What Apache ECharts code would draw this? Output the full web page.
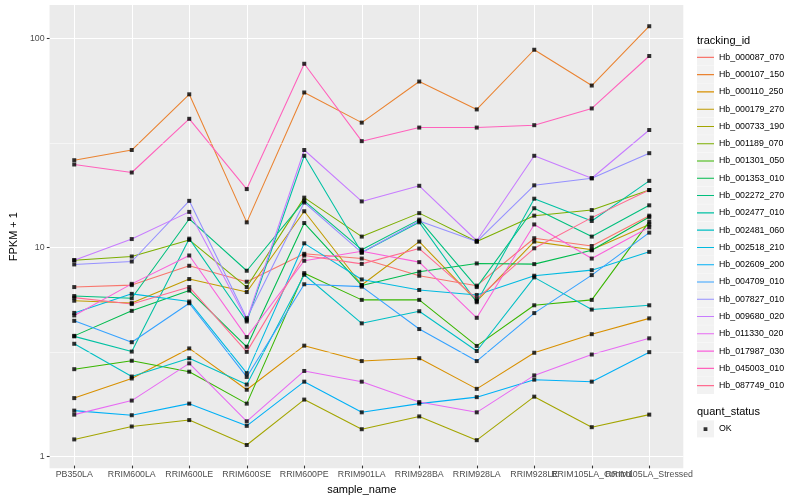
<!DOCTYPE html>
<html>
<head>
<meta charset="utf-8">
<script src="https://cdn.jsdelivr.net/npm/echarts@6/dist/echarts.min.js"></script>
<style>html,body{margin:0;padding:0;background:#fff;}#c{width:800px;height:500px;}</style>
</head>
<body>
<div id="c"></div>
<script>
// ---- data ----
const categories = ['PB350LA','RRIM600LA','RRIM600LE','RRIM600SE','RRIM600PE','RRIM901LA','RRIM928BA','RRIM928LA','RRIM928LE','RRIM105LA_Control','RRIM105LA_Stressed'];
const yTicks = [1, 10, 100];
const yMinorLines = [Math.sqrt(10), Math.sqrt(1000)];

const hb_000087_070 = [6.34, 6.48, 8.03, 6.73, 9.17, 8.7, 7.19, 6.44, 10.9, 10.0, 14.0];
const hb_000107_150 = [25.9, 29.0, 53.8, 13.0, 54.9, 39.3, 62.0, 45.5, 88.2, 59.3, 114.5];
const hb_000110_250 = [1.85, 2.30, 3.21, 2.03, 3.31, 2.79, 2.88, 2.05, 3.06, 3.76, 4.48];
const hb_000179_270 = [5.45, 5.31, 6.93, 6.0, 14.7, 6.49, 10.5, 5.43, 10.5, 9.6, 12.7];
const hb_000733_190 = [1.17, 1.35, 1.45, 1.10, 1.82, 1.31, 1.51, 1.16, 1.88, 1.34, 1.54];
const hb_001189_070 = [8.54, 8.9, 10.7, 6.34, 17.1, 11.1, 14.4, 10.5, 14.0, 14.9, 18.6];
const hb_001301_050 = [2.55, 2.80, 2.48, 1.74, 7.40, 5.5, 5.5, 3.30, 5.18, 5.5, 13.1];
const hb_001353_010 = [3.69, 4.87, 6.1, 3.27, 12.9, 6.45, 7.51, 8.24, 8.18, 9.53, 13.8];
const hb_002272_270 = [5.74, 5.6, 13.5, 7.6, 16.5, 9.6, 13.4, 6.34, 15.2, 11.1, 15.7];
const hb_002477_010 = [3.67, 3.10, 10.85, 4.33, 27.2, 9.3, 13.0, 5.36, 16.9, 13.2, 20.6];
const hb_002481_060 = [3.38, 2.35, 2.88, 2.15, 7.27, 4.24, 4.85, 3.12, 7.06, 4.94, 5.18];
const hb_002518_210 = [4.76, 5.88, 5.4, 2.44, 10.3, 6.9, 6.14, 5.81, 7.19, 7.65, 9.37];
const hb_002609_200 = [1.61, 1.53, 1.74, 1.36, 2.22, 1.58, 1.74, 1.87, 2.27, 2.22, 3.08];
const hb_004709_010 = [4.36, 3.44, 5.3, 2.34, 6.54, 6.37, 3.98, 2.79, 4.75, 7.24, 11.6];
const hb_007827_010 = [8.15, 8.42, 16.5, 4.49, 16.2, 9.3, 13.2, 10.5, 19.6, 21.2, 28.0];
const hb_009680_020 = [8.54, 10.8, 14.6, 4.41, 29.0, 16.4, 19.5, 10.6, 27.2, 21.2, 36.2];
const hb_011330_020 = [1.54, 1.80, 2.72, 1.43, 2.50, 2.22, 1.77, 1.58, 2.38, 3.0, 3.59];
const hb_017987_030 = [4.63, 6.57, 9.0, 3.64, 8.49, 9.43, 8.36, 4.51, 12.7, 8.7, 12.3];
const hb_045003_010 = [24.7, 22.6, 41.0, 18.8, 75.5, 32.0, 37.2, 37.2, 38.2, 46.0, 82.3];
const hb_087749_010 = [5.64, 5.25, 6.34, 3.09, 9.0, 8.2, 9.72, 5.56, 9.75, 13.7, 18.6];

const trackingIds = ['Hb_000087_070','Hb_000107_150','Hb_000110_250','Hb_000179_270','Hb_000733_190','Hb_001189_070','Hb_001301_050','Hb_001353_010','Hb_002272_270','Hb_002477_010','Hb_002481_060','Hb_002518_210','Hb_002609_200','Hb_004709_010','Hb_007827_010','Hb_009680_020','Hb_011330_020','Hb_017987_030','Hb_045003_010','Hb_087749_010'];
const seriesValues = [hb_000087_070, hb_000107_150, hb_000110_250, hb_000179_270, hb_000733_190, hb_001189_070, hb_001301_050, hb_001353_010, hb_002272_270, hb_002477_010, hb_002481_060, hb_002518_210, hb_002609_200, hb_004709_010, hb_007827_010, hb_009680_020, hb_011330_020, hb_017987_030, hb_045003_010, hb_087749_010];
const colors = ['#F8766D','#EA8331','#D89000','#C09B00','#A3A500','#7CAE00','#39B600','#00BB4E','#00BF7D','#00C1A3','#00BFC4','#00BAE0','#00B0F6','#35A2FF','#9590FF','#C77CFF','#E76BF3','#FA62DB','#FF62BC','#FF6C91'];
const statusName = 'OK';

// ---- layout / style ----
const FONT = '"Liberation Sans", Arial, Helvetica, sans-serif';
const PANEL = {left: 40, right: 683.3, top: 5, bottom: 468.3};
const Y_MIN = 0.875, Y_MAX = 144.9;
const KEY = {x: 697, y0: 48.7, size: 17.28, w: 17};
const LINE_ICON = 'path://M0,0h0.01v0.01h-0.01z M0,8.1h17v1.08h-17z M16.99,17.27h0.01v0.01h-0.01z';
const DOT_ICON = 'path://M0,0h0.01v0.01h-0.01z M6.6,6.74h3.8v3.8h-3.8z M16.99,17.27h0.01v0.01h-0.01z';

const chart = echarts.init(document.getElementById('c'), null, {renderer: 'canvas'});

const lineSeries = trackingIds.map((id, k) => ({
  type: 'line', name: id, xAxisIndex: 1, yAxisIndex: 1,
  data: seriesValues[k], symbol: 'none', z: 2,
  lineStyle: {width: 1.07, color: colors[k]},
  itemStyle: {color: colors[k]},
  emphasis: {disabled: true}, silent: true
}));

const pointData = [];
seriesValues.forEach(vals => vals.forEach((v, i) => pointData.push([i, v])));

const keyRects = [];
const nKeys = trackingIds.length;
for (let k = 0; k < nKeys; k++) {
  keyRects.push({type: 'rect', silent: true, z: 0, shape: {x: KEY.x, y: KEY.y0 + k * KEY.size, width: KEY.w, height: KEY.size - 0.3}, style: {fill: '#F2F2F2'}});
}
const okTop = 420.4;
keyRects.push({type: 'rect', silent: true, z: 0, shape: {x: KEY.x, y: okTop, width: KEY.w, height: KEY.size - 0.3}, style: {fill: '#F2F2F2'}});

const option = {
  animation: false,
  backgroundColor: '#ffffff',
  textStyle: {fontFamily: FONT},
  grid: [
    {left: PANEL.left, right: 800 - PANEL.right, top: PANEL.top, bottom: 500 - PANEL.bottom, show: true, backgroundColor: '#EBEBEB', borderWidth: 0},
    {left: 74.25, width: 575, top: PANEL.top, bottom: 500 - PANEL.bottom}
  ],
  xAxis: [
    {gridIndex: 0, type: 'value', min: 0, max: 1, show: false},
    {gridIndex: 1, type: 'category', data: categories, boundaryGap: false,
     axisLine: {show: false},
     axisTick: {show: true, interval: 0, length: 2.75, lineStyle: {color: '#333333', width: 1.07}},
     axisLabel: {interval: 0, color: '#4D4D4D', fontSize: 8.8, margin: 4.5, fontFamily: FONT},
     splitLine: {show: true, interval: 0, lineStyle: {color: '#ffffff', width: 1.07}},
     name: 'sample_name', nameLocation: 'middle', nameGap: 16,
     nameTextStyle: {color: '#000', fontSize: 11, fontFamily: FONT}}
  ],
  yAxis: [
    {gridIndex: 0, type: 'log', logBase: 10, min: Y_MIN, max: Y_MAX,
     axisLine: {show: false},
     axisTick: {show: true, length: 2.75, customValues: yTicks, lineStyle: {color: '#333333', width: 1.07}},
     axisLabel: {customValues: yTicks, color: '#4D4D4D', fontSize: 8.8, margin: 5, fontFamily: FONT,
                 formatter: v => String(v)},
     splitLine: {show: true, lineStyle: {color: '#ffffff', width: 1.07}},
     minorSplitLine: {show: false},
     name: 'FPKM + 1', nameLocation: 'middle', nameGap: 23, nameRotate: 90,
     nameTextStyle: {color: '#000', fontSize: 11, fontFamily: FONT}},
    {gridIndex: 1, type: 'log', logBase: 10, min: Y_MIN, max: Y_MAX, show: false}
  ],
  legend: [
    {data: trackingIds, orient: 'vertical', left: KEY.x, top: KEY.y0, padding: 0,
     itemWidth: KEY.w, itemHeight: KEY.size, itemGap: 0, icon: LINE_ICON, selectedMode: false,
     itemStyle: {borderWidth: 0}, textStyle: {fontSize: 8.8, color: '#000', fontFamily: FONT}},
    {data: [statusName], orient: 'vertical', left: KEY.x, top: okTop, padding: 0,
     itemWidth: KEY.w, itemHeight: KEY.size, itemGap: 0, icon: DOT_ICON, selectedMode: false,
     itemStyle: {borderWidth: 0}, textStyle: {fontSize: 8.8, color: '#000', fontFamily: FONT}}
  ],
  graphic: [
    ...keyRects,
    {type: 'text', x: KEY.x, y: 40.5, silent: true, style: {text: 'tracking_id', fill: '#000', font: '11px ' + FONT, verticalAlign: 'middle'}},
    {type: 'text', x: KEY.x, y: 412, silent: true, style: {text: 'quant_status', fill: '#000', font: '11px ' + FONT, verticalAlign: 'middle'}}
  ],
  series: [
    {type: 'line', name: '_minor', xAxisIndex: 0, yAxisIndex: 0, data: [[0, 1], [1, 1]], symbol: 'none',
     lineStyle: {opacity: 0, width: 0}, silent: true, z: 1,
     markLine: {silent: true, symbol: ['none', 'none'], label: {show: false}, animation: false,
                lineStyle: {color: '#ffffff', width: 0.53, type: 'solid'}, emphasis: {disabled: true},
                data: yMinorLines.map(v => ({yAxis: v}))}},
    ...lineSeries,
    {type: 'scatter', name: statusName, xAxisIndex: 1, yAxisIndex: 1, data: pointData,
     symbol: 'rect', symbolSize: 4, itemStyle: {color: '#000000'}, z: 5, silent: true}
  ]
};
chart.setOption(option);
</script>
</body>
</html>
